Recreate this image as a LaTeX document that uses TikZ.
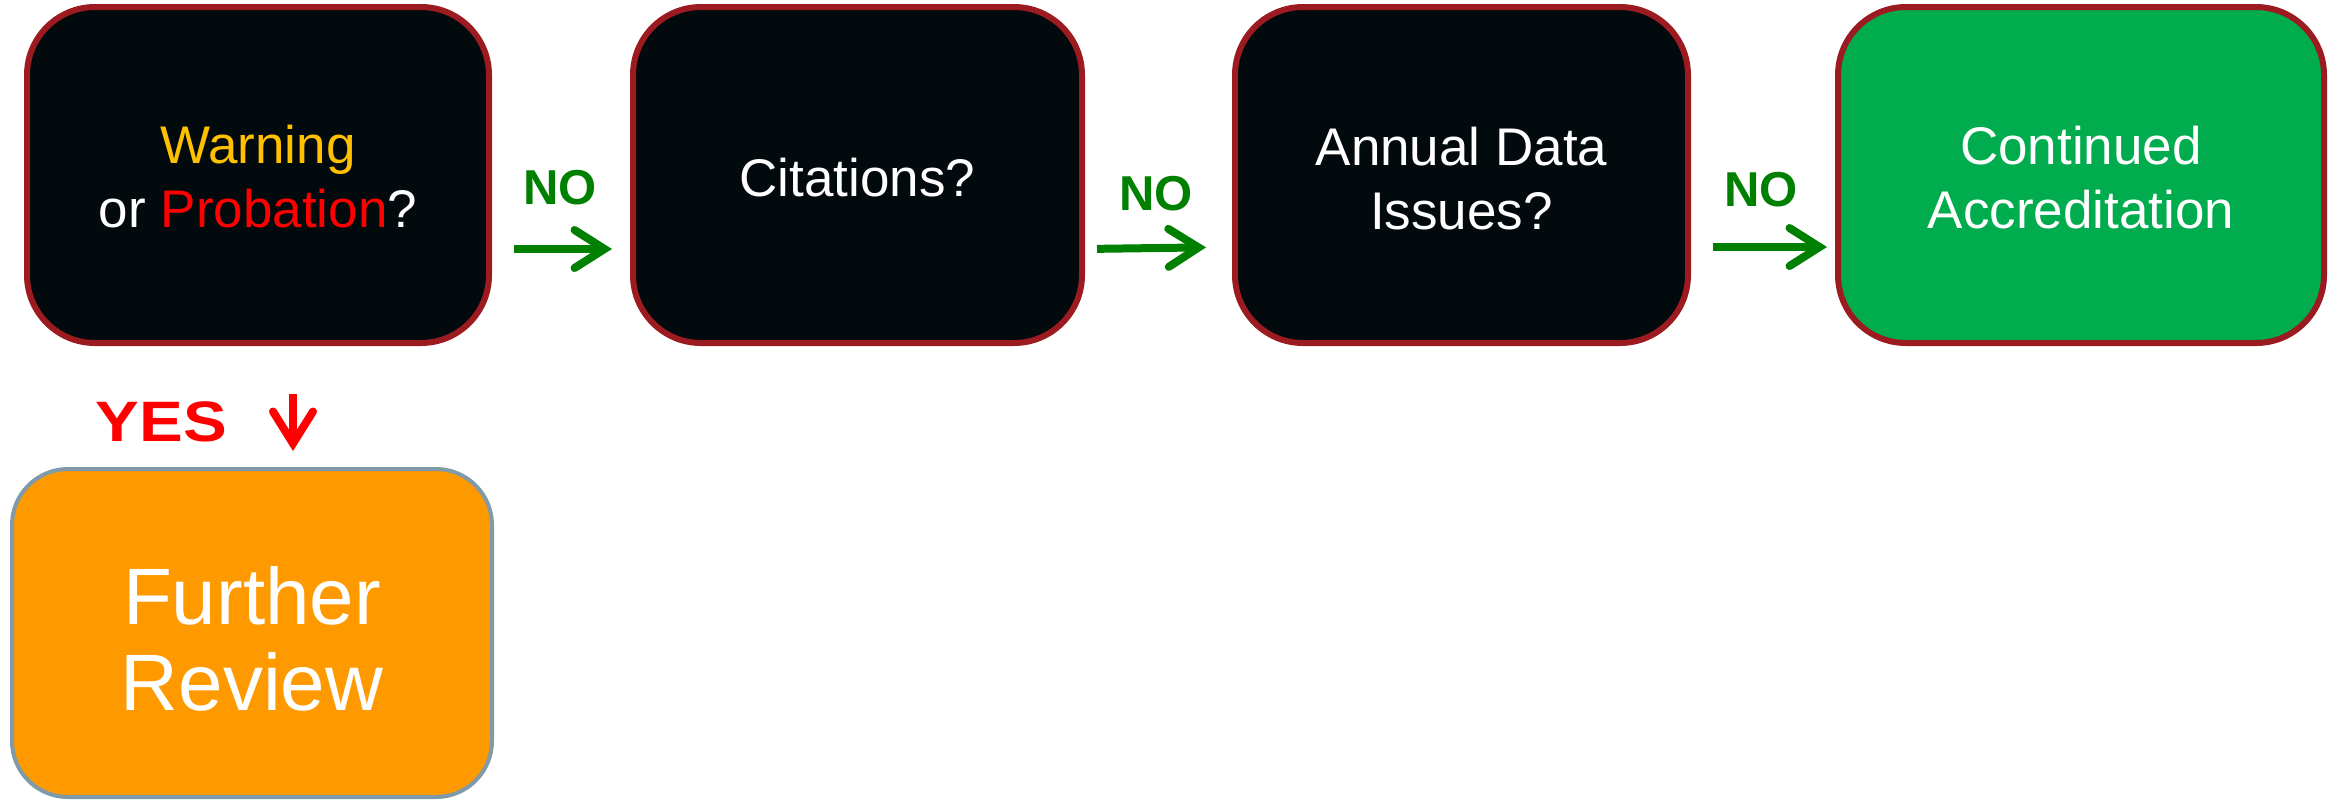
\documentclass[tikz,border=0pt]{standalone}
\usepackage{fontspec}
\setmainfont{Liberation Sans}
\usetikzlibrary{arrows.meta}
\definecolor{boxblack}{HTML}{020A0D}
\definecolor{boxred}{HTML}{9B1B20}
\definecolor{accgreen}{HTML}{00AC4E}
\definecolor{nogreen}{HTML}{008000}
\definecolor{warnorange}{HTML}{FFC000}
\definecolor{frorange}{HTML}{FF9900}
\definecolor{frborder}{HTML}{7F9AA8}
\newcommand{\mystrut}[1]{\rule{0pt}{#1}}
\tikzset{
  stepbox/.style={draw=boxred, line width=3pt, rounded corners=34pt, fill=boxblack,
    text=white, align=center, minimum height=168pt, inner sep=0pt,
    font=\fontsize{26.5}{32}\selectfont},
  nolabel/.style={text=nogreen, font=\fontsize{24.5}{28}\selectfont\bfseries, inner sep=0pt},
  noarrow/.style={draw=nogreen, line width=4pt, -{Straight Barb[length=15pt,width=19pt,line cap=round]}},
  yesarrow/.style={draw=red, line width=4pt, -{Straight Barb[length=16pt,width=20pt,line cap=round]}},
}
\begin{document}
\begin{tikzpicture}[x=0.5pt,y=-0.5pt]
\useasboundingbox (0,0) rectangle (2336,800);
\node[stepbox, minimum width=231pt] (b1) at (258,175) {\mystrut{21pt}\textcolor{warnorange}{Warning}\\or \textcolor{red}{Probation}?};
\node[stepbox, minimum width=224.5pt] (b2) at (857.5,175) {\mystrut{22pt}Citations?};
\node[stepbox, minimum width=226.5pt] (b3) at (1461.5,175) {\mystrut{23pt}Annual Data\\Issues?};
\node[stepbox, minimum width=243pt, fill=accgreen] (b4) at (2081,175) {\mystrut{22pt}Continued\\Accreditation};
\node[draw=frborder, line width=2pt, rounded corners=28pt, fill=frorange, text=white, align=center,
  minimum width=240pt, minimum height=164pt, inner sep=0pt,
  font=\fontsize{40}{43}\selectfont] (fr) at (252,633) {\mystrut{35pt}Further\\Review};
\node[nolabel] (n1) at (560,188) {NO};
\node[nolabel] (n2) at (1156,194) {NO};
\node[nolabel] (n3) at (1761,190) {NO};
\node[text=red, font=\fontsize{28.5}{32}\selectfont\bfseries, inner sep=0pt] (yes) at (161.5,421.5) {\scalebox{1.15}[1]{YES}};
\draw[noarrow, shorten <=11pt, shorten >=9pt] ([yshift=-37pt]b1.east) -- ([yshift=-37pt]b2.west);
\draw[noarrow, shorten <=6pt, shorten >=13pt] ([yshift=-37pt]b2.east) -- ([yshift=-36pt]b3.west);
\draw[noarrow, shorten <=11pt, shorten >=4pt] ([yshift=-36pt]b3.east) -- ([yshift=-36pt]b4.west);
\draw[yesarrow, shorten <=24pt, shorten >=8pt] ([xshift=17.5pt]b1.south) -- ([xshift=20.5pt]fr.north);
\end{tikzpicture}
\end{document}
